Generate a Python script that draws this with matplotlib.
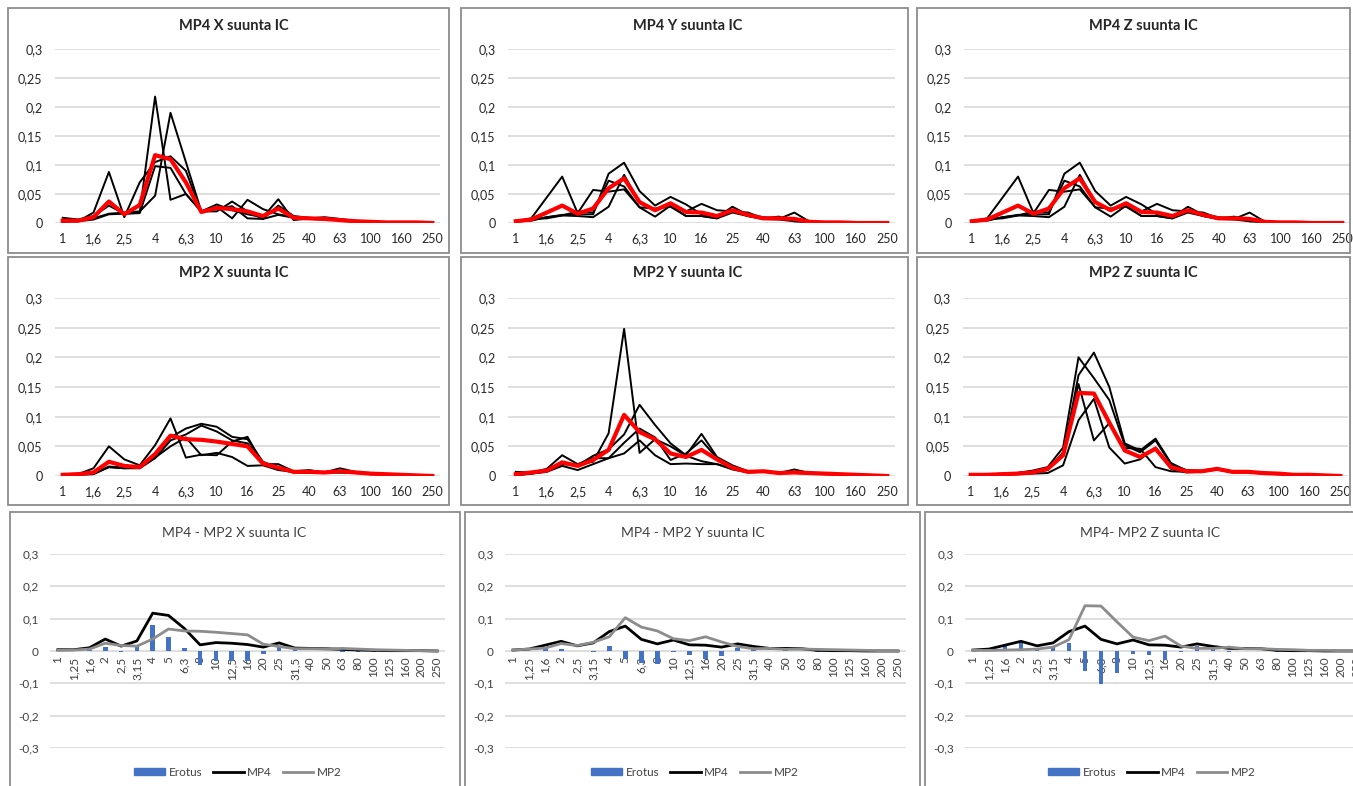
import matplotlib.pyplot as plt
from matplotlib.patches import Rectangle, Patch
from matplotlib.lines import Line2D
import numpy as np

plt.rcParams["font.family"] = ["Lato", "DejaVu Sans"]

# 1/3 octave bands (Hz)
bands = ["1", "1,25", "1,6", "2", "2,5", "3,15", "4", "5", "6,3", "8", "10", "12,5",
         "16", "20", "25", "31,5", "40", "50", "63", "80", "100", "125", "160", "200", "250"]
top_ylabels = ["0", "0,05", "0,1", "0,15", "0,2", "0,25", "0,3"]
diff_ylabels = ["-0,3", "-0,2", "-0,1", "0", "0,1", "0,2", "0,3"]

# MP4 X measurements + mean (red)
mp4_x_a = [0.009, 0.006, 0.012, 0.03, 0.016, 0.018, 0.218, 0.04, 0.05, 0.02, 0.032, 0.022, 0.015,
           0.01, 0.041, 0.005, 0.008, 0.01, 0.007, 0.004, 0.002, 0.001, 0.001, 0.001, 0.0]
mp4_x_b = [0.003, 0.004, 0.008, 0.016, 0.018, 0.02, 0.047, 0.19, 0.105, 0.02, 0.02, 0.037, 0.02,
           0.007, 0.03, 0.012, 0.009, 0.008, 0.005, 0.003, 0.002, 0.001, 0.001, 0.001, 0.0]
mp4_x_c = [0.004, 0.003, 0.018, 0.088, 0.01, 0.07, 0.105, 0.115, 0.09, 0.018, 0.028, 0.008, 0.04,
           0.024, 0.015, 0.01, 0.008, 0.006, 0.005, 0.003, 0.002, 0.001, 0.001, 0.0, 0.0]
mp4_x_d = [0.002, 0.003, 0.006, 0.015, 0.016, 0.017, 0.098, 0.095, 0.05, 0.02, 0.024, 0.029, 0.008,
           0.007, 0.014, 0.009, 0.007, 0.006, 0.005, 0.003, 0.002, 0.001, 0.001, 0.001, 0.0]
mp4_x_mean = [0.004, 0.004, 0.01, 0.037, 0.015, 0.031, 0.117, 0.11, 0.07, 0.019, 0.026, 0.024, 0.02,
              0.012, 0.025, 0.009, 0.008, 0.007, 0.005, 0.003, 0.002, 0.001, 0.001, 0.001, 0.0]

# MP4 Y measurements + mean (the Z chart in the report shows the same curves)
mp4_y_a = [0.003, 0.008, 0.044, 0.08, 0.017, 0.057, 0.054, 0.058, 0.027, 0.011, 0.03, 0.012, 0.012,
           0.008, 0.018, 0.012, 0.007, 0.006, 0.003, 0.002, 0.001, 0.001, 0.0, 0.0, 0.0]
mp4_y_b = [0.004, 0.005, 0.01, 0.014, 0.015, 0.015, 0.085, 0.104, 0.055, 0.03, 0.045, 0.032, 0.015,
           0.01, 0.028, 0.014, 0.01, 0.008, 0.004, 0.002, 0.001, 0.001, 0.001, 0.0, 0.0]
mp4_y_c = [0.003, 0.004, 0.01, 0.013, 0.012, 0.01, 0.028, 0.083, 0.035, 0.022, 0.033, 0.02, 0.033,
           0.022, 0.02, 0.018, 0.008, 0.011, 0.003, 0.002, 0.001, 0.001, 0.0, 0.0, 0.0]
mp4_y_d = [0.002, 0.007, 0.008, 0.013, 0.02, 0.018, 0.073, 0.063, 0.027, 0.025, 0.028, 0.012, 0.012,
           0.008, 0.022, 0.012, 0.007, 0.007, 0.018, 0.002, 0.001, 0.001, 0.0, 0.0, 0.0]
mp4_y_mean = [0.003, 0.006, 0.018, 0.03, 0.016, 0.025, 0.06, 0.077, 0.036, 0.022, 0.034, 0.019, 0.018,
              0.012, 0.022, 0.014, 0.008, 0.008, 0.007, 0.002, 0.001, 0.001, 0.0, 0.0, 0.0]
mp4_z_a, mp4_z_b, mp4_z_c, mp4_z_d = mp4_y_a, mp4_y_b, mp4_y_c, mp4_y_d
mp4_z_mean = mp4_y_mean

# MP2 X
mp2_x_a = [0.002, 0.003, 0.013, 0.05, 0.028, 0.018, 0.052, 0.097, 0.031, 0.036, 0.035, 0.058, 0.066,
           0.02, 0.02, 0.008, 0.01, 0.006, 0.013, 0.007, 0.004, 0.003, 0.002, 0.001, 0.0]
mp2_x_b = [0.003, 0.004, 0.004, 0.016, 0.014, 0.014, 0.035, 0.065, 0.08, 0.088, 0.083, 0.066, 0.062,
           0.024, 0.014, 0.007, 0.007, 0.006, 0.007, 0.006, 0.005, 0.003, 0.003, 0.001, 0.0]
mp2_x_c = [0.001, 0.003, 0.004, 0.015, 0.013, 0.013, 0.03, 0.06, 0.07, 0.085, 0.075, 0.06, 0.055,
           0.022, 0.012, 0.006, 0.006, 0.006, 0.006, 0.006, 0.004, 0.003, 0.002, 0.001, 0.0]
mp2_x_d = [0.002, 0.002, 0.003, 0.015, 0.013, 0.015, 0.031, 0.05, 0.065, 0.035, 0.039, 0.032, 0.017,
           0.018, 0.01, 0.007, 0.005, 0.006, 0.006, 0.005, 0.003, 0.003, 0.002, 0.001, 0.0]
mp2_x_mean = [0.002, 0.003, 0.006, 0.024, 0.017, 0.015, 0.037, 0.068, 0.062, 0.061, 0.058, 0.054, 0.05,
              0.021, 0.014, 0.007, 0.007, 0.006, 0.008, 0.006, 0.004, 0.003, 0.002, 0.001, 0.0]

# MP2 Y
mp2_y_a = [0.007, 0.006, 0.012, 0.035, 0.02, 0.024, 0.072, 0.248, 0.039, 0.062, 0.05, 0.034, 0.025,
           0.02, 0.013, 0.007, 0.008, 0.005, 0.011, 0.005, 0.004, 0.003, 0.002, 0.001, 0.0]
mp2_y_b = [0.002, 0.005, 0.009, 0.02, 0.018, 0.034, 0.045, 0.07, 0.12, 0.086, 0.055, 0.035, 0.071,
           0.032, 0.018, 0.008, 0.008, 0.005, 0.006, 0.005, 0.004, 0.003, 0.002, 0.001, 0.0]
mp2_y_c = [0.002, 0.004, 0.008, 0.02, 0.02, 0.03, 0.03, 0.056, 0.08, 0.065, 0.027, 0.038, 0.06,
           0.03, 0.014, 0.007, 0.008, 0.005, 0.005, 0.005, 0.004, 0.003, 0.002, 0.001, 0.0]
mp2_y_d = [0.001, 0.004, 0.007, 0.017, 0.01, 0.02, 0.03, 0.038, 0.06, 0.035, 0.02, 0.021, 0.02,
           0.02, 0.011, 0.006, 0.007, 0.005, 0.005, 0.004, 0.003, 0.002, 0.002, 0.001, 0.0]
mp2_y_mean = [0.003, 0.006, 0.009, 0.023, 0.017, 0.027, 0.044, 0.103, 0.074, 0.062, 0.038, 0.032, 0.044,
              0.028, 0.014, 0.007, 0.008, 0.005, 0.006, 0.005, 0.004, 0.003, 0.002, 0.001, 0.0]

# MP2 Z
mp2_z_a = [0.003, 0.002, 0.003, 0.005, 0.009, 0.015, 0.048, 0.2, 0.165, 0.128, 0.052, 0.04, 0.06,
           0.02, 0.01, 0.008, 0.012, 0.007, 0.007, 0.005, 0.004, 0.002, 0.002, 0.001, 0.0]
mp2_z_b = [0.002, 0.002, 0.004, 0.005, 0.007, 0.012, 0.035, 0.17, 0.208, 0.15, 0.055, 0.043, 0.063,
           0.022, 0.009, 0.009, 0.013, 0.007, 0.008, 0.005, 0.004, 0.002, 0.002, 0.001, 0.0]
mp2_z_c = [0.002, 0.002, 0.003, 0.004, 0.005, 0.01, 0.04, 0.155, 0.06, 0.089, 0.047, 0.046, 0.015,
           0.008, 0.007, 0.008, 0.012, 0.007, 0.007, 0.005, 0.004, 0.002, 0.002, 0.001, 0.0]
mp2_z_d = [0.001, 0.001, 0.002, 0.003, 0.004, 0.005, 0.018, 0.094, 0.13, 0.048, 0.021, 0.028, 0.048,
           0.012, 0.006, 0.007, 0.011, 0.006, 0.006, 0.004, 0.003, 0.002, 0.001, 0.001, 0.0]
mp2_z_mean = [0.002, 0.002, 0.003, 0.004, 0.006, 0.012, 0.035, 0.14, 0.139, 0.09, 0.043, 0.032, 0.046,
              0.015, 0.008, 0.008, 0.012, 0.007, 0.007, 0.005, 0.004, 0.002, 0.002, 0.001, 0.0]

# Erotus = MP4 - MP2 (bars)
erotus_x = [0.002, 0.001, 0.004, 0.013, -0.002, 0.016, 0.08, 0.042, 0.008, -0.042, -0.032, -0.03, -0.03,
            -0.009, 0.011, 0.002, 0.001, 0.001, -0.003, -0.003, -0.002, -0.002, -0.001, 0.0, 0.0]
erotus_y = [0.0, 0.0, 0.009, 0.007, -0.001, -0.002, 0.016, -0.026, -0.038, -0.04, -0.004, -0.013, -0.026,
            -0.016, 0.008, 0.007, 0.0, 0.003, 0.001, -0.003, -0.003, -0.002, -0.002, -0.001, 0.0]
erotus_z = [0.001, 0.004, 0.015, 0.026, 0.01, 0.013, 0.025, -0.063, -0.103, -0.068, -0.009, -0.013, -0.028,
            -0.003, 0.014, 0.006, -0.004, 0.001, 0.0, -0.003, -0.003, -0.001, -0.002, -0.001, 0.0]

W, H = 1353, 786
fig = plt.figure(figsize=(W / 100, H / 100), dpi=100)
x = np.arange(len(bands))
GRID = "#d9d9d9"
BORDER = "#8c8c8c"


def box(x0, y0, x1, y1):
    # pixel box (top-left origin) -> figure fraction
    return [x0 / W, 1 - y1 / H, (x1 - x0) / W, (y1 - y0) / H]


def frame(x0, y0, x1, y1):
    fig.add_artist(Rectangle((x0 / W, 1 - y1 / H), (x1 - x0) / W, (y1 - y0) / H,
                             transform=fig.transFigure, fill=False,
                             edgecolor=BORDER, linewidth=1.3))


def style(ax):
    for s in ax.spines.values():
        s.set_visible(False)
    ax.grid(axis="y", color=GRID, linewidth=1.2)
    ax.set_axisbelow(True)
    ax.tick_params(length=0, labelsize=9, colors="#262626")
    ax.set_xlim(-0.5, len(bands) - 0.5)


def line_panel(rect, title, tx, ty, runs, mean):
    ax = fig.add_axes(box(*rect))
    style(ax)
    for r in runs:
        ax.plot(x, r, color="black", linewidth=1.4)
    ax.plot(x, mean, color="#ff0000", linewidth=3.0)
    ax.set_ylim(0, 0.3)
    ax.set_yticks(np.arange(0, 0.31, 0.05))
    ax.set_yticklabels(top_ylabels)
    ax.set_xticks(x[::2])
    ax.set_xticklabels(bands[::2])
    ax.tick_params(axis="y", pad=9)
    ax.tick_params(axis="x", pad=7)
    fig.text(tx / W, 1 - ty / H, title, ha="center", va="center",
             fontsize=10.5, fontweight="bold", color="#262626")
    return ax


def diff_panel(rect, title, tx, ty, lx, erotus, mp4, mp2):
    ax = fig.add_axes(box(*rect))
    style(ax)
    ax.bar(x, erotus, width=0.3, color="#4472c4")
    ax.plot(x, mp4, color="black", linewidth=2.0)
    ax.plot(x, mp2, color="#8c8c8c", linewidth=2.0)
    ax.set_ylim(-0.3, 0.3)
    ax.set_yticks(np.arange(-0.3, 0.31, 0.1))
    ax.set_yticklabels(diff_ylabels)
    ax.spines["bottom"].set_position(("data", 0))
    ax.set_xticks(x)
    ax.set_xticklabels(bands, rotation=90)
    ax.tick_params(axis="x", pad=4, labelsize=8.5, colors="#404040")
    ax.tick_params(axis="y", pad=8, labelsize=8.5, colors="#404040")
    fig.text(tx / W, 1 - ty / H, title, ha="center", va="center",
             fontsize=10, color="#404040")
    handles = [Patch(color="#4472c4"),
               Line2D([], [], color="black", linewidth=2.0),
               Line2D([], [], color="#8c8c8c", linewidth=2.0)]
    fig.legend(handles, ["Erotus", "MP4", "MP2"], loc="center",
               bbox_to_anchor=(lx / W, 1 - 772 / H), ncol=3, frameon=False,
               fontsize=8.5, handlelength=2.6, handleheight=0.5,
               columnspacing=0.9, handletextpad=0.3, labelcolor="#404040")
    return ax


# panel frames
for fx0, fx1 in [(8, 449), (461, 908), (917, 1350)]:
    frame(fx0, 8, fx1, 253)
    frame(fx0, 257, fx1, 505)
for fx0, fx1 in [(10, 460), (465, 920), (925, 1360)]:
    frame(fx0, 512, fx1, 800)

line_panel((55, 49, 440, 223), "MP4 X suunta IC", 234, 26,
           [mp4_x_a, mp4_x_b, mp4_x_c, mp4_x_d], mp4_x_mean)
line_panel((508, 49, 895, 223), "MP4 Y suunta IC", 688, 26,
           [mp4_y_a, mp4_y_b, mp4_y_c, mp4_y_d], mp4_y_mean)
line_panel((964, 49, 1350, 223), "MP4 Z suunta IC", 1143, 26,
           [mp4_z_a, mp4_z_b, mp4_z_c, mp4_z_d], mp4_z_mean)

line_panel((55, 298, 440, 476), "MP2 X suunta IC", 234, 273,
           [mp2_x_a, mp2_x_b, mp2_x_c, mp2_x_d], mp2_x_mean)
line_panel((508, 298, 895, 476), "MP2 Y suunta IC", 688, 273,
           [mp2_y_a, mp2_y_b, mp2_y_c, mp2_y_d], mp2_y_mean)
line_panel((963, 298, 1348, 476), "MP2 Z suunta IC", 1143, 273,
           [mp2_z_a, mp2_z_b, mp2_z_c, mp2_z_d], mp2_z_mean)

diff_panel((50, 554, 445, 748), "MP4 - MP2 X suunta IC", 234, 533, 238,
           erotus_x, mp4_x_mean, mp2_x_mean)
diff_panel((505, 554, 906, 748), "MP4 - MP2 Y suunta IC", 693, 533, 695,
           erotus_y, mp4_y_mean, mp2_y_mean)
diff_panel((965, 554, 1365, 748), "MP4- MP2 Z suunta IC", 1150, 533, 1152,
           erotus_z, mp4_z_mean, mp2_z_mean)

fig.savefig("out.png", dpi=100)
